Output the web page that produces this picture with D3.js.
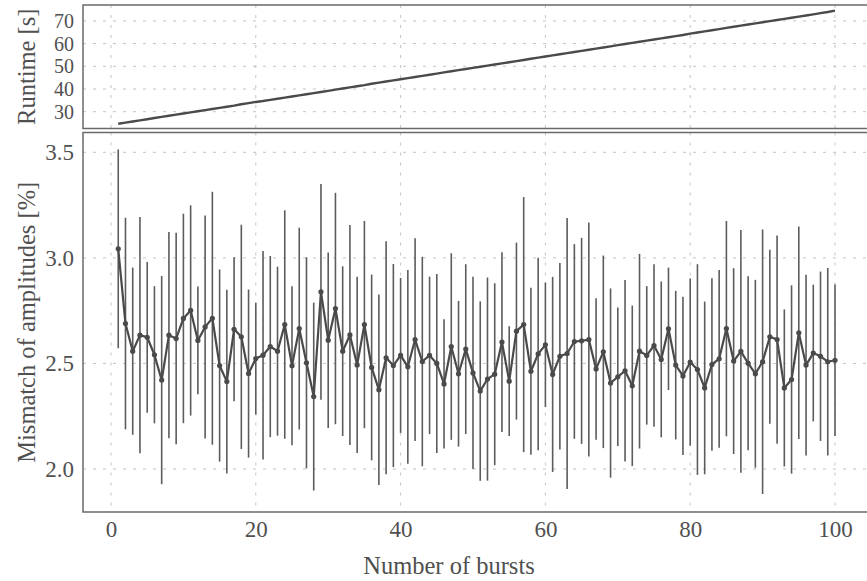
<!DOCTYPE html>
<html>
<head>
<meta charset="utf-8">
<script src="https://cdn.jsdelivr.net/npm/d3@7/dist/d3.min.js"></script>
<style>
  html, body { margin: 0; padding: 0; background: #fff; }
  svg { display: block; }
  text { font-family: "Liberation Serif", "DejaVu Serif", serif; fill: #505050; }
</style>
</head>
<body>
<svg id="chart" width="867" height="581"></svg>
<script>
// Number of bursts (x values)
const bursts = d3.range(1, 101);

// Runtime in seconds for each burst count
const runtime = [
  24.7, 25.2, 25.7, 26.2, 26.7, 27.2, 27.7, 28.2, 28.7, 29.2,
  29.7, 30.2, 30.7, 31.2, 31.7, 32.2, 32.7, 33.3, 33.8, 34.3,
  34.7, 35.2, 35.7, 36.2, 36.7, 37.2, 37.7, 38.2, 38.7, 39.2,
  39.7, 40.2, 40.7, 41.2, 41.7, 42.3, 42.8, 43.3, 43.8, 44.3,
  44.8, 45.3, 45.8, 46.3, 46.8, 47.3, 47.8, 48.3, 48.8, 49.3,
  49.8, 50.3, 50.8, 51.3, 51.8, 52.3, 52.8, 53.3, 53.8, 54.3,
  54.8, 55.3, 55.8, 56.3, 56.8, 57.3, 57.8, 58.3, 58.8, 59.3,
  59.8, 60.3, 60.8, 61.3, 61.8, 62.3, 62.8, 63.3, 63.8, 64.4,
  64.9, 65.4, 65.9, 66.4, 66.9, 67.4, 67.9, 68.4, 68.9, 69.4,
  69.9, 70.4, 70.9, 71.4, 71.9, 72.4, 72.9, 73.4, 73.9, 74.5
];

// Mean mismatch of amplitudes [%]
const mismatch = [
  3.043, 2.689, 2.558, 2.634, 2.624, 2.541, 2.421, 2.634, 2.618, 2.713,
  2.751, 2.609, 2.673, 2.714, 2.490, 2.414, 2.662, 2.626, 2.452, 2.523,
  2.539, 2.580, 2.558, 2.684, 2.489, 2.665, 2.503, 2.343, 2.839, 2.610,
  2.760, 2.558, 2.635, 2.493, 2.684, 2.481, 2.375, 2.527, 2.490, 2.538,
  2.484, 2.613, 2.509, 2.538, 2.500, 2.403, 2.580, 2.451, 2.568, 2.455,
  2.369, 2.426, 2.449, 2.601, 2.416, 2.653, 2.684, 2.463, 2.545, 2.588,
  2.448, 2.534, 2.547, 2.604, 2.607, 2.613, 2.474, 2.555, 2.407, 2.437,
  2.465, 2.394, 2.558, 2.538, 2.585, 2.519, 2.664, 2.492, 2.441, 2.506,
  2.471, 2.384, 2.495, 2.522, 2.665, 2.511, 2.557, 2.501, 2.451, 2.508,
  2.626, 2.613, 2.384, 2.424, 2.645, 2.492, 2.549, 2.534, 2.508, 2.515
];

// Standard deviation of the mismatch [%]
const mismatchErr = [
  0.471, 0.501, 0.396, 0.559, 0.357, 0.325, 0.493, 0.488, 0.501, 0.496,
  0.498, 0.255, 0.528, 0.599, 0.455, 0.435, 0.341, 0.531, 0.398, 0.265,
  0.494, 0.429, 0.400, 0.541, 0.376, 0.478, 0.500, 0.445, 0.511, 0.416,
  0.548, 0.402, 0.521, 0.417, 0.491, 0.440, 0.451, 0.552, 0.481, 0.367,
  0.459, 0.480, 0.496, 0.373, 0.424, 0.306, 0.442, 0.345, 0.402, 0.455,
  0.425, 0.481, 0.431, 0.426, 0.260, 0.419, 0.604, 0.396, 0.456, 0.295,
  0.462, 0.442, 0.642, 0.461, 0.488, 0.554, 0.335, 0.456, 0.448, 0.328,
  0.430, 0.380, 0.461, 0.328, 0.385, 0.369, 0.290, 0.352, 0.375, 0.396,
  0.499, 0.409, 0.408, 0.421, 0.510, 0.440, 0.575, 0.412, 0.445, 0.626,
  0.412, 0.493, 0.372, 0.446, 0.503, 0.428, 0.324, 0.401, 0.444, 0.359
];

const xTicks = [0, 20, 40, 60, 80, 100];
const runtimeTicks = [30, 40, 50, 60, 70];
const mismatchTicks = [2.0, 2.5, 3.0, 3.5];

const left = 83, right = 880;               // plot area runs past the right edge
const top1 = 5, bottom1 = 128.5;            // runtime panel
const top2 = 132.5, bottom2 = 512;          // mismatch panel

const svg = d3.select("#chart");

const x = d3.scaleLinear().domain([0, 100]).range([111, 835]);
const yRun = d3.scaleLinear().domain([30, 70]).range([111.7, 20.9]);
const yMis = d3.scaleLinear().domain([2.0, 3.5]).range([469, 152.3]);

const gridColor = "#c4c4c4";
const markColor = "#4a4a4a";
const barColor = "#5c5c5c";
const spineColor = "#6a6a6a";
const titleSize = 24.5;
const tickSize = 23;
const runtimeTickSize = 20;   // tighter spacing in the short runtime panel

function panel(yScale, yTicks, yFmt, yTop, yBottom, title, labelSize) {
  const g = svg.append("g");
  const clipId = "clip" + Math.round(yTop);
  svg.append("clipPath").attr("id", clipId)
    .append("rect").attr("x", left).attr("y", yTop).attr("width", right - left).attr("height", yBottom - yTop);

  // grid
  const grid = g.append("g").attr("clip-path", `url(#${clipId})`);
  grid.selectAll("line.h").data(yTicks).join("line")
    .attr("x1", left).attr("x2", right)
    .attr("y1", d => yScale(d)).attr("y2", d => yScale(d))
    .attr("stroke", gridColor).attr("stroke-width", 1).attr("stroke-dasharray", "3,7");
  grid.selectAll("line.v").data(xTicks).join("line")
    .attr("x1", d => x(d)).attr("x2", d => x(d))
    .attr("y1", yTop).attr("y2", yBottom)
    .attr("stroke", gridColor).attr("stroke-width", 1).attr("stroke-dasharray", "3,7");

  // y axis labels
  const axis = d3.axisLeft(yScale).tickValues(yTicks).tickFormat(yFmt).tickSize(0).tickPadding(0);
  const ag = g.append("g").attr("transform", `translate(${left - 9},0)`).call(axis);
  ag.select(".domain").remove();
  ag.selectAll("text").attr("font-size", labelSize).attr("fill", "#505050")
    .attr("font-family", "Liberation Serif, serif");

  // y title
  g.append("text")
    .attr("transform", `translate(26,${(yTop + yBottom) / 2}) rotate(-90)`)
    .attr("text-anchor", "middle").attr("dominant-baseline", "central")
    .attr("font-size", titleSize).text(title);

  return { g, clipId };
}

const p1 = panel(yRun, runtimeTicks, d3.format("d"), top1, bottom1, "Runtime [s]", runtimeTickSize);
const p2 = panel(yMis, mismatchTicks, d3.format(".1f"), top2, bottom2, "Mismatch of amplitudes [%]", tickSize);

// runtime line
p1.g.append("path")
  .datum(bursts.map((b, i) => [b, runtime[i]]))
  .attr("fill", "none").attr("stroke", markColor).attr("stroke-width", 2.4)
  .attr("d", d3.line().x(d => x(d[0])).y(d => yRun(d[1])));

// mismatch error bars
const pts = bursts.map((b, i) => ({ b, m: mismatch[i], e: mismatchErr[i] }));
p2.g.append("g").selectAll("line").data(pts).join("line")
  .attr("x1", d => x(d.b)).attr("x2", d => x(d.b))
  .attr("y1", d => yMis(d.m - d.e)).attr("y2", d => yMis(d.m + d.e))
  .attr("stroke", barColor).attr("stroke-width", 1.6);

// mismatch mean line and markers
p2.g.append("path").datum(pts)
  .attr("fill", "none").attr("stroke", markColor).attr("stroke-width", 2.2)
  .attr("stroke-linejoin", "round")
  .attr("d", d3.line().x(d => x(d.b)).y(d => yMis(d.m)));
p2.g.append("g").selectAll("circle").data(pts).join("circle")
  .attr("cx", d => x(d.b)).attr("cy", d => yMis(d.m)).attr("r", 2.6)
  .attr("fill", markColor);

// spines
function spines(yTop, yBottom) {
  svg.append("path")
    .attr("d", `M${right},${yTop}H${left}V${yBottom}H${right}`)
    .attr("fill", "none").attr("stroke", spineColor).attr("stroke-width", 1.5);
}
spines(top1, bottom1);
spines(top2, bottom2);

// x axis labels
const xa = d3.axisBottom(x).tickValues(xTicks).tickFormat(d3.format("d")).tickSize(0).tickPadding(0);
const xg = svg.append("g").attr("transform", `translate(0,${bottom2 + 9})`).call(xa);
xg.select(".domain").remove();
xg.selectAll("text").attr("font-size", tickSize).attr("fill", "#505050")
  .attr("font-family", "Liberation Serif, serif");

svg.append("text")
  .attr("x", 449).attr("y", 565)
  .attr("text-anchor", "middle").attr("dominant-baseline", "central")
  .attr("font-size", titleSize).text("Number of bursts");
</script>
</body>
</html>
